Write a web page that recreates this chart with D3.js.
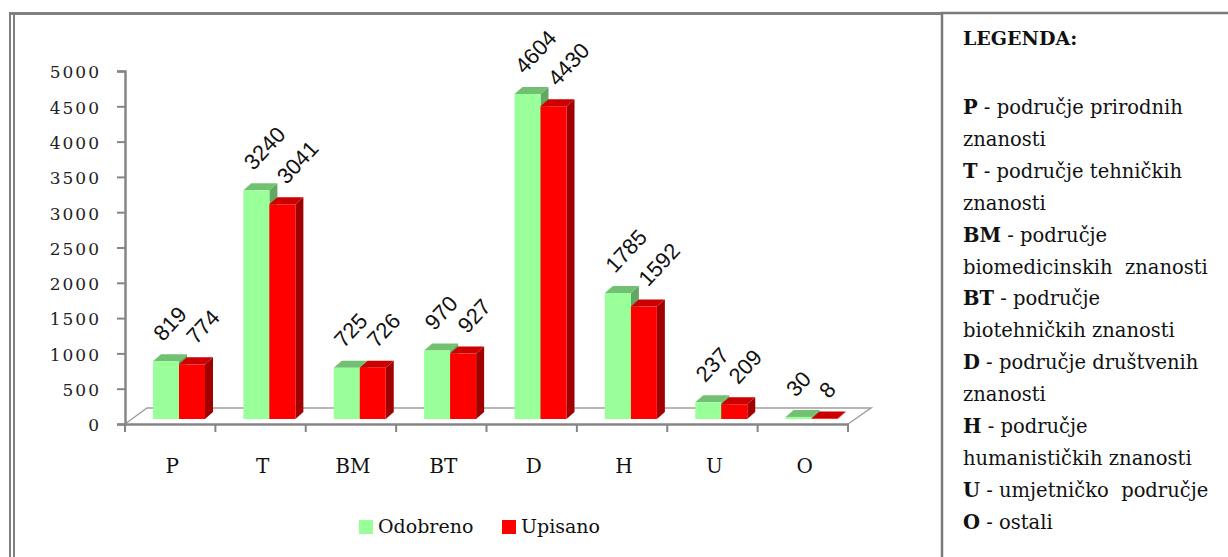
<!DOCTYPE html>
<html>
<head>
<meta charset="utf-8">
<script src="https://cdn.jsdelivr.net/npm/d3@7"></script>
<style>
html,body{margin:0;padding:0;background:#fff;}
svg{display:block;}
</style>
</head>
<body>
<svg id="chart" width="1228" height="557"></svg>
<script>
const categories = ["P","T","BM","BT","D","H","U","O"];
const odobreno = [819,3240,725,970,4604,1785,237,30];
const upisano  = [774,3041,726,927,4430,1592,209,8];
const seriesNames = ["Odobreno","Upisano"];
const yTicks = [0,500,1000,1500,2000,2500,3000,3500,4000,4500,5000];
const legendTitle = "LEGENDA:";
const legendLines = [
  {code:"P", text:" - područje prirodnih"},
  {code:"", text:"znanosti"},
  {code:"T", text:" - područje tehničkih"},
  {code:"", text:"znanosti"},
  {code:"BM", text:" - područje"},
  {code:"", text:"biomedicinskih\u00a0 znanosti"},
  {code:"BT", text:" - područje"},
  {code:"", text:"biotehničkih znanosti"},
  {code:"D", text:" - područje društvenih"},
  {code:"", text:"znanosti"},
  {code:"H", text:" - područje"},
  {code:"", text:"humanističkih znanosti"},
  {code:"U", text:" - umjetničko\u00a0 područje"},
  {code:"O", text:" - ostali"}
];

const colors = {
  front: ["#99ff99","#ff0000"],
  top:   ["#72c072","#cc0000"],
  side:  ["#62a862","#a00000"]
};

const svg = d3.select("#chart");
const serif = "'DejaVu Serif',serif";
const sans = "'Liberation Sans',Arial,sans-serif";
const gray = "#868686";

// frames
svg.append("rect").attr("x",9).attr("y",12).attr("width",933).attr("height",3).attr("fill","#808080");
svg.append("rect").attr("x",9).attr("y",12).attr("width",2).attr("height",560).attr("fill","#808080");
svg.append("rect").attr("x",13).attr("y",15).attr("width",2).attr("height",560).attr("fill","#808080");
svg.append("rect").attr("x",942).attr("y",13).attr("width",300).attr("height",600)
  .attr("fill","#fff").attr("stroke","#7a7a7a").attr("stroke-width",2.5);

// scales
const x = d3.scaleBand().domain(categories).range([125,848]).padding(0);
const xs = d3.scaleBand().domain(seriesNames).range([28,80]).padding(0);
const y = d3.scaleLinear().domain([0,5000]).range([424,71]);
const yBar = d3.scaleLinear().domain([0,5000]).range([419,66]);
const depthX = 8, depthY = 7;

// floor
const floor = svg.append("g");
const bx0 = x.range()[0], bx1 = x.range()[1];
floor.append("path")
  .attr("d", `M${bx0},${y(0)} L${bx0+22},${y(0)-16} L${bx1+23},${y(0)-16} L${bx1},${y(0)}`)
  .attr("fill","none").attr("stroke","#a0a0a0").attr("stroke-width",1.5);

// y axis
const yAxis = d3.axisLeft(y).tickValues(yTicks).tickSize(8).tickFormat(d=>d);
const gy = svg.append("g").attr("transform",`translate(${bx0},0)`).call(yAxis);
gy.select(".domain").attr("stroke",gray).attr("stroke-width",2.5);
gy.selectAll(".tick line").attr("stroke",gray).attr("stroke-width",2);
gy.selectAll(".tick text")
  .attr("x",-24).attr("dy","0.4em")
  .attr("font-family",serif).attr("font-size",17).attr("letter-spacing","2px")
  .attr("fill","#222");

// x axis
const xAxis = d3.axisBottom(x).tickSize(0).tickFormat(d=>d);
const gx = svg.append("g").attr("transform",`translate(0,${y(0)})`).call(xAxis);
gx.select(".domain").attr("stroke",gray).attr("stroke-width",2.5);
gx.selectAll(".tick text").attr("y",49).attr("dy",0).attr("dx",2)
  .attr("font-family",serif).attr("font-size",20).attr("fill","#111");
// category boundary ticks
const bounds = categories.map(c=>x(c)).concat([bx1]);
gx.selectAll(".btick").data(bounds).enter().append("line")
  .attr("x1",d=>d).attr("x2",d=>d).attr("y1",0).attr("y2",8)
  .attr("stroke",gray).attr("stroke-width",2);

// bars
const data = [];
categories.forEach((c,i)=>{
  data.push({cat:c, s:0, v:odobreno[i]});
  data.push({cat:c, s:1, v:upisano[i]});
});
const bars = svg.append("g");
data.forEach(d=>{
  const x0 = x(d.cat) + xs(seriesNames[d.s]);
  const w = xs.bandwidth();
  const top = yBar(d.v), base = yBar(0);
  const g = bars.append("g");
  g.append("path")
    .attr("d",`M${x0+w},${top} L${x0+w+depthX},${top-depthY} L${x0+w+depthX},${base-depthY} L${x0+w},${base}Z`)
    .attr("fill",colors.side[d.s]);
  g.append("path")
    .attr("d",`M${x0},${top} L${x0+depthX},${top-depthY} L${x0+w+depthX},${top-depthY} L${x0+w},${top}Z`)
    .attr("fill",colors.top[d.s]);
  g.append("rect").attr("x",x0).attr("y",top).attr("width",w).attr("height",base-top)
    .attr("fill",colors.front[d.s]);
});

// data labels
const labels = svg.append("g");
data.forEach(d=>{
  const cx = x(d.cat) + xs(seriesNames[d.s]) + xs.bandwidth()/2 + (d.s===0?-3:4);
  const ty = yBar(d.v) - 19;
  labels.append("text")
    .attr("transform",`translate(${cx},${ty}) rotate(-47)`)
    .attr("font-family",sans).attr("font-size",22).attr("fill","#111")
    .text(d.v);
});

// series legend
const lg = svg.append("g");
const legX = [359, 502];
seriesNames.forEach((n,i)=>{
  lg.append("rect").attr("x",legX[i]).attr("y",520).attr("width",14).attr("height",14).attr("fill",colors.front[i]);
  lg.append("text").attr("x",legX[i]+19).attr("y",533)
    .attr("font-family",serif).attr("font-size",19).attr("fill","#111").text(n);
});

// right text legend
const tl = svg.append("g").attr("font-family",serif).attr("font-size",19.5).attr("fill","#111");
tl.append("text").attr("x",963).attr("y",45).attr("font-weight","bold").attr("font-size",19).text(legendTitle);
legendLines.forEach((l,i)=>{
  const t = tl.append("text").attr("x",963).attr("y",114 + i*31.9);
  if(l.code) t.append("tspan").attr("font-weight","bold").text(l.code);
  t.append("tspan").text(l.text);
});
</script>
</body>
</html>
